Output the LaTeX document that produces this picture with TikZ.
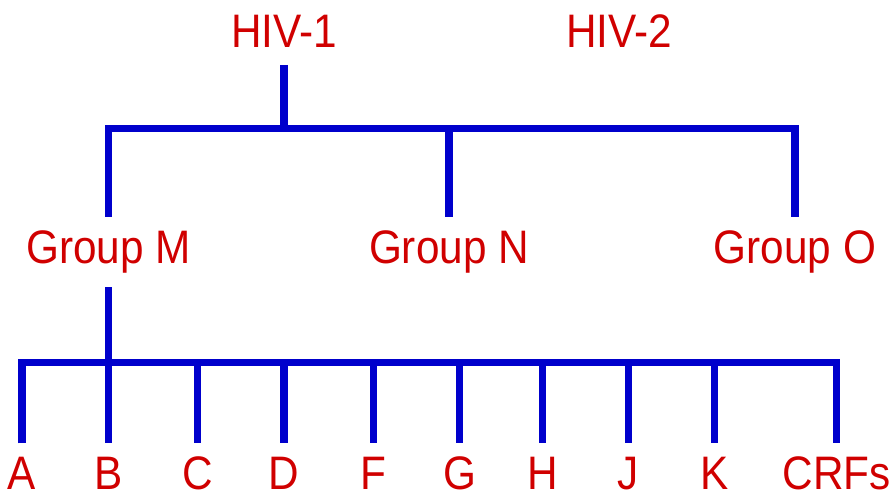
\documentclass[tikz,border=0pt]{standalone}
\usepackage{fontspec}
\setmainfont[FakeStretch=0.9]{Liberation Sans}
\usepackage{xcolor}
\definecolor{hivred}{RGB}{208,0,0}
\definecolor{hivblue}{RGB}{0,0,204}
\usepackage{tikz}
\tikzstyle{lbl} = [text=hivred, font=\fontsize{47}{50}\selectfont,
  inner sep=0pt, anchor=base]
\tikzstyle{branch} = [draw=hivblue, line width=7.5pt]

\begin{document}
\begin{tikzpicture}[x=1pt, y=-1pt]
  \useasboundingbox (0,0) rectangle (889,500);
  \node[lbl] (hiv1) at (284, 48) {HIV-1};
  \node[lbl] (hiv2) at (619, 48) {HIV-2};
  \node[lbl] (grpM) at (108.5, 263) {Group M};
  \node[lbl] (grpN) at (449, 263) {Group N};
  \node[lbl] (grpO) at (795, 263) {Group O};
  \foreach \x/\s/\t in {22/A/A, 108.5/B/B, 197.5/C/C, 284/D/D, 373.5/F/F,
      459.5/G/G, 542.5/H/H, 628.5/J/J, 714.5/K/K, 836.5/R/CRFs}
    \node[lbl] (\s) at (\x, 489) {\t};
  \coordinate (bar1) at (0, 128.5);
  \coordinate (bar2) at (0, 362.5);

  \path[branch] ([yshift=-17pt]hiv1.base) -- (hiv1 |- bar1);
  \path[branch] ([yshift=13pt]grpM.north) |- (bar1 -| grpO)
    -- ([yshift=13pt]grpO.north);
  \path[branch] (bar1 -| grpN) -- ([yshift=13pt]grpN.north);

  \path[branch] ([yshift=-24pt]grpM.base) -- (grpM |- bar2);
  \path[branch] ([yshift=13pt]A.north) |- (bar2 -| R)
    -- ([yshift=13pt]R.north);
  \foreach \s in {B,C,D,F,G,H,J,K}
    \path[branch] (bar2 -| \s) -- ([yshift=13pt]\s.north);
\end{tikzpicture}
\end{document}
